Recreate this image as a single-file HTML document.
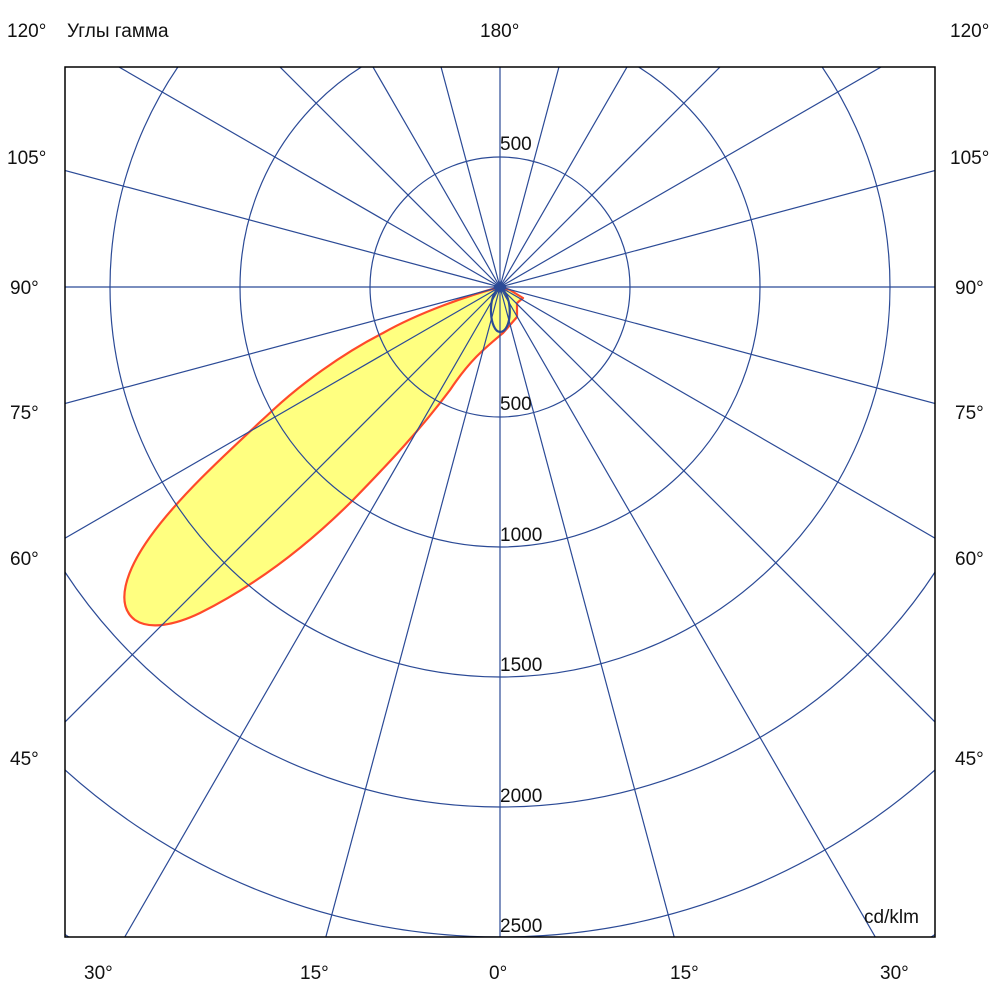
<!DOCTYPE html>
<html><head><meta charset="utf-8"><style>
html,body{margin:0;background:#fff;width:1000px;height:1000px;overflow:hidden}
svg{display:block}
text{font-family:"Liberation Sans","Noto Sans CJK JP",sans-serif;font-size:19px;fill:#111}
</style></head><body>
<svg width="1000" height="1000" viewBox="0 0 1000 1000">
<defs><clipPath id="c"><rect x="65" y="67" width="870" height="870"/></clipPath></defs>
<g clip-path="url(#c)">
<path d="M500,287 C470,295 420,312 383,333 C340,355 300,385 273,410 C230,450 180,495 150,537 C125,572 115,605 135,620 C150,630 175,625 200,613 C250,588 300,553 353,500 C390,462 420,430 450,390 C470,360 485,348 503,333 L517,317 L517,303 L523,298 L510,290 Z" fill="#ffff80" stroke="#ff4a2a" stroke-width="2.2" stroke-linejoin="round"/>
<g fill="none" stroke="#2b4a96" stroke-width="1.2">
<circle cx="500" cy="287" r="130"/><circle cx="500" cy="287" r="260"/><circle cx="500" cy="287" r="390"/><circle cx="500" cy="287" r="520"/><circle cx="500" cy="287" r="650"/><circle cx="500" cy="287" r="780"/>
<g id="rl">
<line x1="500" y1="287" x2="500" y2="1300"/>
<line x1="500" y1="287" x2="500" y2="1300" transform="rotate(15 500 287)"/>
<line x1="500" y1="287" x2="500" y2="1300" transform="rotate(30 500 287)"/>
<line x1="500" y1="287" x2="500" y2="1300" transform="rotate(45 500 287)"/>
<line x1="500" y1="287" x2="500" y2="1300" transform="rotate(60 500 287)"/>
<line x1="500" y1="287" x2="500" y2="1300" transform="rotate(75 500 287)"/>
<line x1="500" y1="287" x2="500" y2="1300" transform="rotate(90 500 287)"/>
<line x1="500" y1="287" x2="500" y2="1300" transform="rotate(105 500 287)"/>
<line x1="500" y1="287" x2="500" y2="1300" transform="rotate(120 500 287)"/>
<line x1="500" y1="287" x2="500" y2="1300" transform="rotate(135 500 287)"/>
<line x1="500" y1="287" x2="500" y2="1300" transform="rotate(150 500 287)"/>
<line x1="500" y1="287" x2="500" y2="1300" transform="rotate(165 500 287)"/>
</g>
<use href="#rl" transform="rotate(180 500 287)"/>
<path d="M500,287 C486,296 490,332 500,332 C512,332 514,296 500,287" stroke-width="2.2"/>
</g>
<path d="M500,281 L507,287 L500,293 L493,287 Z" fill="#2b4a96"/>
</g>
<rect x="65" y="67" width="870" height="870" fill="none" stroke="#000" stroke-width="1.5"/>
<text x="7" y="37">120°</text><text x="67" y="37">Углы гамма</text><text x="480" y="37">180°</text><text x="950" y="37">120°</text>
<text x="7" y="164">105°</text><text x="950" y="164">105°</text>
<text x="10" y="294">90°</text><text x="955" y="294">90°</text>
<text x="10" y="419">75°</text><text x="955" y="419">75°</text>
<text x="10" y="565">60°</text><text x="955" y="565">60°</text>
<text x="10" y="765">45°</text><text x="955" y="765">45°</text>
<text x="84" y="979">30°</text><text x="300" y="979">15°</text><text x="489" y="979">0°</text><text x="670" y="979">15°</text><text x="880" y="979">30°</text>
<text x="500" y="150">500</text><text x="500" y="410">500</text><text x="500" y="541">1000</text><text x="500" y="671">1500</text><text x="500" y="802">2000</text><text x="500" y="932">2500</text>
<text x="864" y="923">cd/klm</text>
</svg>
</body></html>
